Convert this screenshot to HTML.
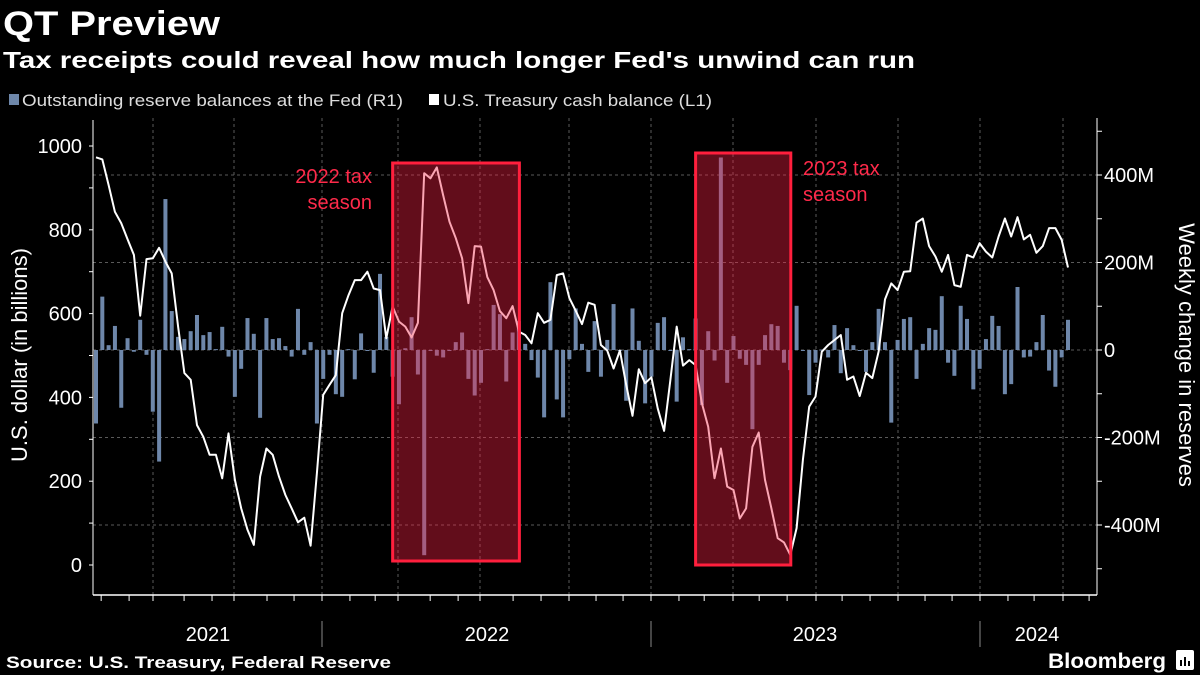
<!DOCTYPE html>
<html><head><meta charset="utf-8"><style>
html,body{margin:0;padding:0;background:#000;}
svg{display:block;font-family:"Liberation Sans",sans-serif;}
</style></head><body>
<svg id="chart" width="1200" height="675" viewBox="0 0 1200 675" xmlns="http://www.w3.org/2000/svg">
<rect width="1200" height="675" fill="#000"/>
<text x="3" y="35" fill="#fff" font-weight="bold" font-size="34" textLength="217" lengthAdjust="spacingAndGlyphs">QT Preview</text>
<text x="3" y="68" fill="#fff" font-weight="bold" font-size="23" textLength="912" lengthAdjust="spacingAndGlyphs">Tax receipts could reveal how much longer Fed's unwind can run</text>
<g>
<rect x="9" y="94" width="10" height="11" fill="#6e87aa"/>
<text x="22" y="106" fill="#ddd" font-size="17" textLength="381" lengthAdjust="spacingAndGlyphs">Outstanding reserve balances at the Fed  (R1)</text>
<rect x="429" y="94" width="10" height="11" fill="#fff"/>
<text x="443" y="106" fill="#ddd" font-size="17" textLength="269" lengthAdjust="spacingAndGlyphs">U.S. Treasury cash balance (L1)</text>
</g>
<g id="grid"></g>
<g id="bars"></g>
<g id="lines"></g>
<g id="boxes"></g>
<g id="axes"></g>
<text x="372" y="183" fill="#ff2a4a" font-size="20" text-anchor="end">2022 tax</text>
<text x="372" y="209" fill="#ff2a4a" font-size="20" text-anchor="end">season</text>
<text x="803" y="175" fill="#ff2a4a" font-size="20">2023 tax</text>
<text x="803" y="201" fill="#ff2a4a" font-size="20">season</text>
<text transform="translate(27,355) rotate(-90)" fill="#fff" font-size="22" text-anchor="middle">U.S. dollar (in billions)</text>
<text transform="translate(1179,355) rotate(90)" fill="#fff" font-size="22" text-anchor="middle">Weekly change in reserves</text>
<text x="6" y="668" fill="#fff" font-weight="bold" font-size="17" textLength="385" lengthAdjust="spacingAndGlyphs">Source: U.S. Treasury, Federal Reserve</text>
<text x="1048" y="668" fill="#fff" font-weight="bold" font-size="21" textLength="118" lengthAdjust="spacingAndGlyphs">Bloomberg</text>
<g><rect x="1176" y="650" width="18" height="20" rx="2" fill="#fff"/><rect x="1180" y="660" width="2" height="6" fill="#000"/><rect x="1184" y="657" width="2" height="9" fill="#000"/><rect x="1188" y="661" width="2" height="5" fill="#000"/></g>
</svg>
<script>
const cashValues = [973,968,907,843,816,777,740,595,730,732,757,724,696,569,458,442,334,306,263,263,207,314,203,135,84,48,211,278,263,211,167,135,102,113,46,219,406,430,453,601,
644,680,680,700,660,656,541,617,581,569,543,578,935,923,949,883,819,780,732,625,761,760,687,656,606,589,618,557,549,529,601,578,585,692,696,637,607,
575,626,621,525,512,469,512,430,356,467,434,448,374,320,442,569,476,489,477,386,330,207,278,187,179,111,135,282,316,203,135,64,54,24,88,251,378,402,
509,525,537,549,442,450,403,459,446,509,634,672,656,700,701,817,827,761,736,700,740,668,664,740,734,768,748,734,784,827,784,830,777,788,745,761,804,804,776,710];
const reserveChanges = [-168,122,11,55,-132,27,-4,69,-11,-141,-255,345,89,30,25,43,80,34,41,2,53,-15,-107,-43,73,37,-155,73,25,27,9,-15,94,-11,18,-168,-66,-11,-101,-107,
2,-67,38,0,-52,174,30,-61,-124,4,75,-56,-469,-1,-13,-17,0,18,40,-66,-104,-75,2,103,82,-72,40,66,14,-23,-63,-154,155,-113,-154,-21,95,
14,-50,66,-61,23,105,0,-116,95,21,-122,-61,62,75,0,-118,29,2,72,-126,43,-24,440,-75,32,-20,-34,-181,-34,34,59,55,-29,-46,101,-1,-103,-29,
1,-17,57,-53,50,11,0,-50,18,94,18,-166,23,71,75,-66,14,50,46,123,-29,-59,101,71,-90,-43,25,78,55,-101,-78,144,-17,-15,18,80,-47,-84,-17,69];
const leftTicks = [0,200,400,600,800,1000];
const rightTicks = [-400,-200,0,200,400];
const rightTickLabels = ["-400M","-200M","0","200M","400M"];
const yearLabels = ["2021","2022","2023","2024"];
const taxSeasons = [[47,67],[95,110]];

const NS="http://www.w3.org/2000/svg";
function mk(tag,attrs,parent){const e=document.createElementNS(NS,tag);for(const k in attrs)e.setAttribute(k,attrs[k]);parent.appendChild(e);return e;}
const X0=96, X1=1068, N=cashValues.length;
const step=(X1-X0)/(N-1);
const xIdx=i=>X0+i*step;
const yL=v=>565-v*0.419;
const yR=v=>350-v*0.4375;
const dayX=d=>322+d*0.9014;
const grid=document.getElementById('grid'), bars=document.getElementById('bars'), lines=document.getElementById('lines'), boxes=document.getElementById('boxes'), axes=document.getElementById('axes');

rightTicks.forEach(v=>{const l=mk('line',{x1:93,x2:1097,y1:yR(v),y2:yR(v),stroke:'#5a5a5a','stroke-dasharray':'3,3','stroke-width':1},grid);

});
const quarterGridX=[153,234,322,398,480,569,651,733,816,898,980,1063];
quarterGridX.forEach(x=>{const g=mk('line',{x1:x,x2:x,y1:118,y2:595,stroke:'#5a5a5a','stroke-dasharray':'3,3','stroke-width':1},grid);
  
  });
const base=Date.UTC(2022,0,1);
for(let y=2021;y<=2024;y++)for(let m=0;m<12;m++){
  const d=(Date.UTC(y,m,1)-base)/864e5; let x=dayX(d);
  if(m%3===0){const qi=(y-2021)*4+m/3-2; if(qi>=0&&qi<quarterGridX.length)x=quarterGridX[qi];}
  if(x<95||x>1095)continue;
  const t=mk('line',{x1:x,x2:x,y1:595,y2:601,stroke:'#fff','stroke-width':1},axes);
  
  
  if(m===0&&y>2021){const s=mk('line',{x1:x,x2:x,y1:621,y2:647,stroke:'#888','stroke-width':1},axes);
  
  }
}
const yearCenters=[208,487,815,1037];
yearLabels.forEach((lab,i)=>{const t=mk('text',{x:yearCenters[i],y:641,fill:'#fff','font-size':20,'text-anchor':'middle'},axes);t.textContent=lab;

});

reserveChanges.forEach((v,i)=>{const y0=yR(0),y1=yR(v);
  const r=mk('rect',{x:xIdx(i)-2,y:Math.min(y0,y1),width:4,height:Math.max(1,Math.abs(y1-y0)),fill:'#6e87aa'},bars);
  
  });
const pts=cashValues.map((v,i)=>xIdx(i).toFixed(1)+','+yL(v).toFixed(1)).join(' ');
const pl=mk('polyline',{points:pts,fill:'none',stroke:'#fff','stroke-width':2,'stroke-linejoin':'round'},lines);



const boxY=[[163,561],[153,565]];
taxSeasons.forEach((s,i)=>{const xa=xIdx(s[0]), xb=xIdx(s[1])+0.5;
  const b=mk('rect',{x:xa,y:boxY[i][0],width:xb-xa,height:boxY[i][1]-boxY[i][0],fill:'rgba(245,33,68,0.4)',stroke:'#ff1f3d','stroke-width':3},boxes);
  
  });

const la=mk('line',{x1:93,x2:93,y1:120,y2:595,stroke:'#fff','stroke-width':1},axes);


const ra=mk('line',{x1:1097,x2:1097,y1:118,y2:595,stroke:'#fff','stroke-width':1},axes);


const ba=mk('line',{x1:93,x2:1097,y1:595,y2:595,stroke:'#fff','stroke-width':1.5},axes);


for(let v=0;v<=1100;v+=100){const y=yL(v);if(y<120)continue;
  const t=mk('line',{x1:89,x2:93,y1:y,y2:y,stroke:'#fff'},axes);
  
  }
leftTicks.forEach(v=>{const t=mk('text',{x:82,y:yL(v)+7,fill:'#fff','font-size':20,'text-anchor':'end'},axes);t.textContent=v;
  
  });
for(let v=-500;v<=500;v+=100){const y=yR(v);
  const t=mk('line',{x1:1097,x2:1102,y1:y,y2:y,stroke:'#fff'},axes);
  
  }
rightTicks.forEach((v,i)=>{const t=mk('text',{x:1104,y:yR(v)+7,fill:'#fff','font-size':20},axes);t.textContent=rightTickLabels[i];
  
  });
</script>
</body></html>
